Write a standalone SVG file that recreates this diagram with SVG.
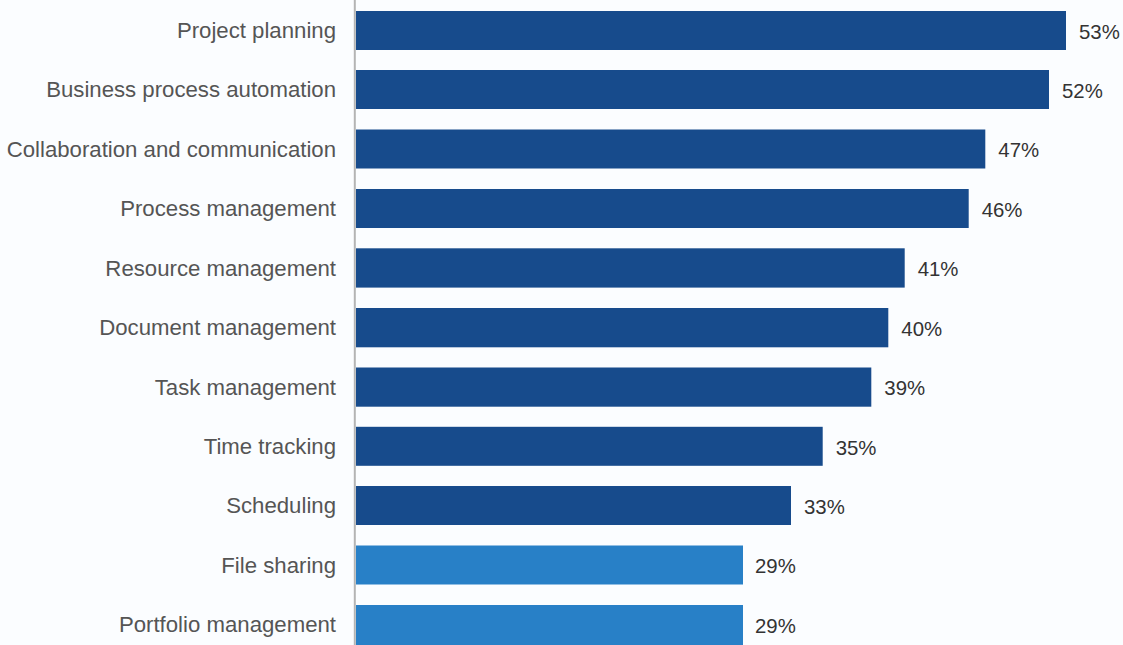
<svg xmlns="http://www.w3.org/2000/svg" width="1123" height="645" viewBox="0 0 1123 645">
<style>
.lbl{font-family:"Liberation Sans",Arial,sans-serif;font-size:22.2px;fill:#555;text-anchor:end}
.val{font-family:"Liberation Sans",Arial,sans-serif;font-size:20.4px;fill:#333}
.dk{fill:#174b8c}
.lt{fill:#2880c7}
</style>
<rect width="1123" height="645" fill="#fbfdff"/>
<g id="axis"><line x1="354.8" y1="0" x2="354.8" y2="645" stroke="#b4b4b4" stroke-width="2"/></g>
<g id="bar1"><rect class="dk" x="356" y="11" width="710" height="39"/><text class="lbl" x="336" y="38">Project planning</text><text class="val" x="1079" y="38.5">53%</text></g>
<g id="bar2"><rect class="dk" x="356" y="70" width="693" height="39"/><text class="lbl" x="336" y="97">Business process automation</text><text class="val" x="1062" y="97.5">52%</text></g>
<g id="bar3"><rect class="dk" x="356" y="129.5" width="629.3" height="39"/><text class="lbl" x="336" y="156.5">Collaboration and communication</text><text class="val" x="998.3" y="157">47%</text></g>
<g id="bar4"><rect class="dk" x="356" y="189" width="612.7" height="39"/><text class="lbl" x="336" y="216">Process management</text><text class="val" x="981.7" y="216.5">46%</text></g>
<g id="bar5"><rect class="dk" x="356" y="248.3" width="548.7" height="39.3"/><text class="lbl" x="336" y="275.5">Resource management</text><text class="val" x="917.7" y="276">41%</text></g>
<g id="bar6"><rect class="dk" x="356" y="308" width="532.3" height="39.3"/><text class="lbl" x="336" y="335">Document management</text><text class="val" x="901.3" y="335.5">40%</text></g>
<g id="bar7"><rect class="dk" x="356" y="367.5" width="515.3" height="39.2"/><text class="lbl" x="336" y="394.5">Task management</text><text class="val" x="884.3" y="395">39%</text></g>
<g id="bar8"><rect class="dk" x="356" y="426.8" width="466.7" height="39"/><text class="lbl" x="336" y="454">Time tracking</text><text class="val" x="835.7" y="454.5">35%</text></g>
<g id="bar9"><rect class="dk" x="356" y="486" width="435" height="39"/><text class="lbl" x="336" y="513">Scheduling</text><text class="val" x="804" y="513.5">33%</text></g>
<g id="bar10"><rect class="lt" x="356" y="545.5" width="387" height="39"/><text class="lbl" x="336" y="572.5">File sharing</text><text class="val" x="755" y="573">29%</text></g>
<g id="bar11"><rect class="lt" x="356" y="605" width="387" height="40"/><text class="lbl" x="336" y="632">Portfolio management</text><text class="val" x="755" y="632.5">29%</text></g>
</svg>
